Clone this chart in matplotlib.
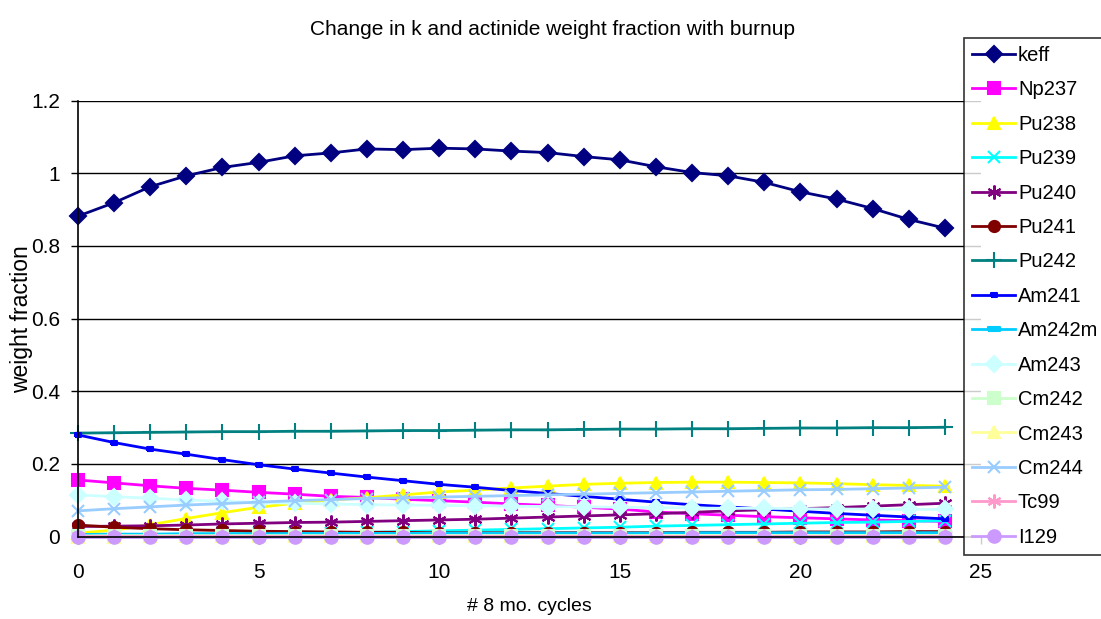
import matplotlib
matplotlib.use("Agg")
import matplotlib.pyplot as plt

plt.rcParams['font.family'] = ['Liberation Sans', 'DejaVu Sans']

cycles = list(range(25))

keff = [0.882, 0.919, 0.963, 0.993, 1.016, 1.030, 1.048, 1.056, 1.067, 1.065, 1.069, 1.067, 1.061,
        1.057, 1.046, 1.037, 1.018, 1.002, 0.993, 0.975, 0.949, 0.929, 0.903, 0.873, 0.849]
np237 = [0.156, 0.148, 0.140, 0.133, 0.128, 0.122, 0.117, 0.111, 0.108, 0.103, 0.099, 0.095, 0.090,
         0.086, 0.081, 0.076, 0.068, 0.063, 0.059, 0.055, 0.052, 0.049, 0.046, 0.044, 0.042]
pu238 = [0.010, 0.018, 0.033, 0.050, 0.066, 0.081, 0.092, 0.101, 0.107, 0.115, 0.123, 0.128, 0.134,
         0.139, 0.144, 0.147, 0.149, 0.150, 0.150, 0.149, 0.148, 0.146, 0.143, 0.141, 0.139]
pu239 = [0.004, 0.005, 0.006, 0.007, 0.008, 0.009, 0.010, 0.011, 0.012, 0.014, 0.016, 0.018, 0.020,
         0.022, 0.024, 0.026, 0.029, 0.031, 0.033, 0.035, 0.037, 0.039, 0.040, 0.042, 0.044]
pu240 = [0.028, 0.029, 0.030, 0.032, 0.035, 0.037, 0.039, 0.040, 0.042, 0.044, 0.046, 0.048, 0.051,
         0.054, 0.057, 0.060, 0.063, 0.067, 0.071, 0.074, 0.077, 0.080, 0.084, 0.088, 0.092]
pu241 = [0.032, 0.026, 0.022, 0.019, 0.017, 0.015, 0.014, 0.013, 0.012, 0.012, 0.011, 0.011, 0.011,
         0.011, 0.011, 0.011, 0.011, 0.012, 0.012, 0.012, 0.013, 0.013, 0.013, 0.014, 0.014]
pu242 = [0.285, 0.286, 0.287, 0.288, 0.289, 0.289, 0.290, 0.290, 0.291, 0.292, 0.292, 0.293, 0.294,
         0.294, 0.295, 0.296, 0.296, 0.297, 0.297, 0.298, 0.299, 0.299, 0.300, 0.300, 0.301]
am241 = [0.280, 0.259, 0.241, 0.227, 0.212, 0.198, 0.186, 0.175, 0.164, 0.154, 0.144, 0.136, 0.127,
         0.119, 0.111, 0.103, 0.095, 0.088, 0.082, 0.076, 0.070, 0.064, 0.059, 0.054, 0.049]
am242m = [0.006, 0.007, 0.007, 0.008, 0.008, 0.008, 0.009, 0.009, 0.009, 0.009, 0.010, 0.010, 0.010,
          0.010, 0.010, 0.010, 0.010, 0.011, 0.011, 0.011, 0.011, 0.011, 0.011, 0.011, 0.011]
am243 = [0.115, 0.110, 0.106, 0.101, 0.097, 0.094, 0.092, 0.090, 0.088, 0.087, 0.086, 0.085, 0.084,
         0.083, 0.082, 0.081, 0.080, 0.079, 0.078, 0.078, 0.077, 0.076, 0.076, 0.075, 0.075]
cm242 = [0.002, 0.003, 0.003, 0.003, 0.003, 0.003, 0.003, 0.003, 0.003, 0.003, 0.003, 0.003, 0.003,
         0.003, 0.003, 0.003, 0.003, 0.003, 0.003, 0.003, 0.003, 0.003, 0.003, 0.003, 0.003]
cm243 = [0.000, 0.000, 0.001, 0.001, 0.001, 0.001, 0.001, 0.001, 0.001, 0.001, 0.001, 0.001, 0.001,
         0.001, 0.001, 0.001, 0.001, 0.001, 0.001, 0.001, 0.001, 0.001, 0.001, 0.001, 0.001]
cm244 = [0.071, 0.077, 0.082, 0.087, 0.091, 0.095, 0.099, 0.102, 0.105, 0.107, 0.109, 0.111, 0.113,
         0.115, 0.117, 0.119, 0.121, 0.123, 0.125, 0.127, 0.129, 0.130, 0.132, 0.134, 0.136]
tc99 = [0.002, 0.002, 0.002, 0.002, 0.002, 0.002, 0.002, 0.002, 0.002, 0.002, 0.002, 0.002, 0.002,
        0.002, 0.002, 0.002, 0.002, 0.002, 0.002, 0.002, 0.002, 0.002, 0.002, 0.002, 0.002]
i129 = [0.000, 0.000, 0.000, 0.000, 0.000, 0.000, 0.000, 0.000, 0.000, 0.000, 0.000, 0.000, 0.000,
        0.000, 0.000, 0.000, 0.000, 0.000, 0.000, 0.000, 0.000, 0.000, 0.000, 0.000, 0.000]

# flat bar markers for the americium series
dash_small = [(-1, -0.7), (1, -0.7), (1, 0.7), (-1, 0.7), (-1, -0.7)]
dash_wide = [(-1, -0.35), (1, -0.35), (1, 0.35), (-1, 0.35), (-1, -0.35)]

# name, values, colour, marker, marker size
series = [
    ('keff', keff, '#000080', 'D', 8),
    ('Np237', np237, '#FF00FF', 's', 8),
    ('Pu238', pu238, '#FFFF00', '^', 9),
    ('Pu239', pu239, '#00FFFF', 'x', 9),
    ('Pu240', pu240, '#800080', (6, 2, 0), 10),
    ('Pu241', pu241, '#800000', 'o', 8),
    ('Pu242', pu242, '#008080', '+', 11),
    ('Am241', am241, '#0000FF', dash_small, 5),
    ('Am242m', am242m, '#00CCFF', dash_wide, 9),
    ('Am243', am243, '#CCFFFF', 'D', 8),
    ('Cm242', cm242, '#CCFFCC', 's', 8),
    ('Cm243', cm243, '#FFFF99', '^', 9),
    ('Cm244', cm244, '#99CCFF', 'x', 9),
    ('Tc99', tc99, '#FF99CC', (6, 2, 0), 10),
    ('I129', i129, '#CC99FF', 'o', 9),
]

fig = plt.figure(figsize=(11.01, 6.19), dpi=100)
ax = fig.add_axes([0.0708, 0.133, 0.8202, 0.7045])

for name, vals, col, mk, ms in series:
    ax.plot(cycles, vals, color=col, marker=mk, markersize=ms, linewidth=2,
            markeredgewidth=1.5, label=name, clip_on=False)

ax.set_xlim(0, 25)
ax.set_ylim(0, 1.2)
ax.set_xticks([0, 5, 10, 15, 20, 25])
ax.set_yticks([0, 0.2, 0.4, 0.6, 0.8, 1.0, 1.2])
ax.set_yticklabels(['0', '0.2', '0.4', '0.6', '0.8', '1', '1.2'])
ax.yaxis.grid(True, color='black', linewidth=1)
ax.set_axisbelow(True)
for side in ('top', 'right'):
    ax.spines[side].set_visible(False)
for side in ('left', 'bottom'):
    ax.spines[side].set_linewidth(1.2)
ax.tick_params(axis='y', labelsize=15, length=5, width=1, direction='out', pad=8)
ax.tick_params(axis='x', labelsize=15, length=5, width=1, direction='out', pad=14)

ax.set_xlabel('# 8 mo. cycles', fontsize=14)
ax.xaxis.set_label_coords(0.5, -0.16)
ax.xaxis.label.set_verticalalignment('center')
ax.set_ylabel('weight fraction', fontsize=16.5)
ax.yaxis.set_label_coords(-0.062, 0.5)
ax.yaxis.label.set_verticalalignment('center')
fig.text(0.502, 0.953, 'Change in k and actinide weight fraction with burnup',
         ha='center', va='center', fontsize=15)

leg = fig.legend(loc='upper left', bbox_to_anchor=(964 / 1101, 1 - 38 / 619), fontsize=14.5,
                 frameon=True, fancybox=False, borderpad=0.4, labelspacing=0.765,
                 handlelength=2.13, handletextpad=0.15, borderaxespad=0)
leg.get_frame().set_edgecolor('black')
leg.get_frame().set_linewidth(1.2)

fig.savefig('out.png', dpi=100)
